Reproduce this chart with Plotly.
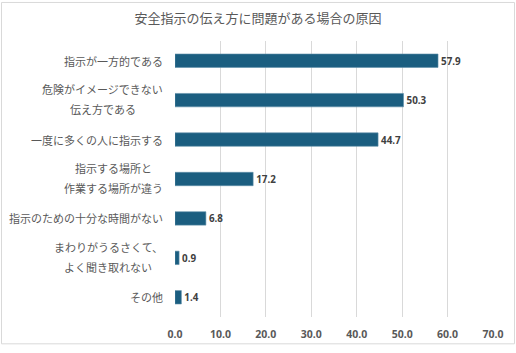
import plotly.graph_objects as go

title = "安全指示の伝え方に問題がある場合の原因"
categories = [
    "指示が一方的である",
    "危険がイメージできない\n伝え方である",
    "一度に多くの人に指示する",
    "指示する場所と\n作業する場所が違う",
    "指示のための十分な時間がない",
    "まわりがうるさくて、\nよく聞き取れない",
    "その他",
]
values = [57.9, 50.3, 44.7, 17.2, 6.8, 0.9, 1.4]
tick_vals = [0, 10, 20, 30, 40, 50, 60, 70]
tick_text = ["0.0", "10.0", "20.0", "30.0", "40.0", "50.0", "60.0", "70.0"]

FONT = "Noto Sans CJK JP"
NUMFONT = "Open Sans"
W, H = 516, 353
ml, mr, mt, mb = 175, 23, 41, 29
FS = 11
STANDOFF = 10
LINE_GAP = 19.5

fig = go.Figure(go.Bar(
    x=values, y=categories, orientation="h",
    marker=dict(color="#1B5E80", line=dict(color="#5f8fa8", width=0.6)),
    width=0.34,
    text=[f"{v:.1f}" for v in values], textposition="outside",
    textfont=dict(family=NUMFONT, size=11, color="#404040", weight="bold"),
    cliponaxis=False,
))

annotations = []
for cat in categories:
    lines = cat.split("\n")
    n_long = max(len(l) for l in lines)
    k = len(lines)
    for i, line in enumerate(lines):
        yshift = ((k - 1) / 2 - i) * LINE_GAP + (1 if k > 1 else 0)
        annotations.append(dict(
            text=line, xref="paper", yref="y", x=0, y=cat,
            xanchor="right", yanchor="middle", showarrow=False,
            xshift=-STANDOFF - (n_long - len(line)) * FS / 2,
            yshift=yshift,
            font=dict(family=FONT, size=FS, color="#595959"),
        ))

pw = W - ml - mr
ph = H - mt - mb
fig.update_layout(
    width=W, height=H,
    margin=dict(l=ml, r=mr, t=mt, b=mb),
    paper_bgcolor="white", plot_bgcolor="white",
    showlegend=False,
    title=dict(text=title, x=0.5, xanchor="center", y=1 - 18 / H, yanchor="middle",
               font=dict(family=FONT, size=13, color="#595959")),
    xaxis=dict(range=[0, 70], tickvals=tick_vals, ticktext=tick_text,
               showgrid=True, gridcolor="#d9d9d9", gridwidth=1, zeroline=False,
               showline=False, ticks="", ticklabelstandoff=9,
               tickfont=dict(family=NUMFONT, size=10.5, color="#595959", weight="bold")),
    yaxis=dict(autorange="reversed", showgrid=False, zeroline=False, ticks="",
               showticklabels=False),
    annotations=annotations,
    shapes=[dict(type="rect", xref="paper", yref="paper",
                 x0=-(ml - 1.5) / pw, x1=1 + (mr - 1.5) / pw,
                 y0=-(mb - 1.5) / ph, y1=1 + (mt - 1.5) / ph,
                 line=dict(color="#d9d9d9", width=1))],
)
fig.write_html("out.html")
